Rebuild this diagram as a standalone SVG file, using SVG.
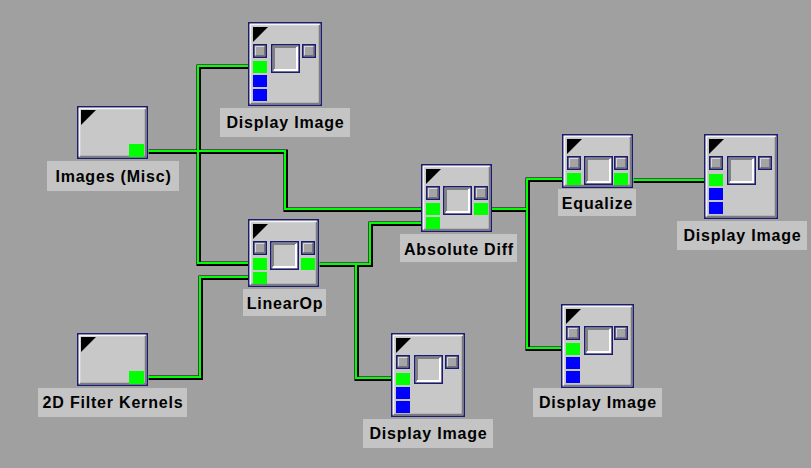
<svg xmlns="http://www.w3.org/2000/svg" xmlns:xlink="http://www.w3.org/1999/xlink" width="811" height="468" viewBox="0 0 811 468">
<style>
.box{fill:#c8c8c8;stroke:#1c1c6e;stroke-width:1.5}
.hi{fill:none;stroke:#f4f4f4;stroke-width:1.5}
.sh{fill:none;stroke:#7c7c7c;stroke-width:1.5}
.g{fill:#00ff00}
.b{fill:#0000ff}
.lbl{fill:#c4c4c4}
.txt{font-family:"Liberation Sans",Arial,sans-serif;font-weight:bold;font-size:16px;letter-spacing:0.8px;fill:#000;text-anchor:middle}
.wb{fill:none;stroke:#000;stroke-width:4.5;stroke-linejoin:miter}
.wg{fill:none;stroke:#00ff00;stroke-width:2;stroke-linejoin:miter}
</style>
<defs>
<path id="tri" d="M0,0H15L0,15Z" fill="#000"/>
<g id="sport"><rect x="0.75" y="0.75" width="12.5" height="12.5" fill="#a4a4a4" stroke="#1c1c6e" stroke-width="1.5"/><path d="M2.5,11.5V2.5H11.5" stroke="#d8d8d8" fill="none"/><path d="M2.5,11.5H11.5V2.5" stroke="#747474" fill="none"/></g>
<g id="bport"><rect x="0.75" y="0.75" width="27.5" height="27.5" fill="#c8c8c8" stroke="#1c1c6e" stroke-width="1.5"/><path d="M3,26V3H26" stroke="#808080" stroke-width="2" fill="none"/><path d="M3,26H26V3" stroke="#ffffff" stroke-width="2" fill="none"/></g>
</defs>
<rect x="0" y="0" width="811" height="468" fill="#a0a0a0"/>

<g id="connectors">
<g transform="translate(0.7,0.7)">
<path class="wb" d="M148,151H285V209H421"/>
<path class="wb" d="M248,66H198V263H248"/>
<path class="wb" d="M148,377H200V277H248"/>
<path class="wb" d="M319,264H370V223H421"/>
<path class="wb" d="M356,264V378H391"/>
<path class="wb" d="M491,209H527V179H562"/>
<path class="wb" d="M527,209V348H561"/>
<path class="wb" d="M633,180H704"/>
</g>
<path class="wg" d="M148,151H285V209H421"/>
<path class="wg" d="M248,66H198V263H248"/>
<path class="wg" d="M148,377H200V277H248"/>
<path class="wg" d="M319,264H370V223H421"/>
<path class="wg" d="M356,264V378H391"/>
<path class="wg" d="M491,209H527V179H562"/>
<path class="wg" d="M527,209V348H561"/>
<path class="wg" d="M633,180H704"/>
</g>

<g id="images-misc">
<g transform="translate(77,106)">
<rect class="box" x="0.75" y="0.75" width="69.5" height="51.5"/>
<path class="hi" d="M2.5,50V2.5H68.5"/>
<path class="sh" d="M3,50.5H68.5V3"/>
<use xlink:href="#tri" x="4" y="4"/>
<rect class="g" x="52" y="38" width="15" height="13"/>
</g>
<rect class="lbl" x="47" y="161" width="132" height="30"/>
<text class="txt" x="113.5" y="182">Images (Misc)</text>
</g>

<g id="filter-kernels">
<g transform="translate(77,333)">
<rect class="box" x="0.75" y="0.75" width="69.5" height="51.5"/>
<path class="hi" d="M2.5,50V2.5H68.5"/>
<path class="sh" d="M3,50.5H68.5V3"/>
<use xlink:href="#tri" x="4" y="4"/>
<rect class="g" x="52" y="38" width="15" height="13"/>
</g>
<rect class="lbl" x="38" y="388" width="149" height="29"/>
<text class="txt" x="113" y="408">2D Filter Kernels</text>
</g>

<g id="display-top">
<g transform="translate(248,22)">
<rect class="box" x="0.75" y="0.75" width="72.5" height="82.5"/>
<path class="hi" d="M2.5,81V2.5H71.5"/>
<path class="sh" d="M3,81.5H71.5V3"/>
<use xlink:href="#tri" x="5" y="5"/>
<use xlink:href="#sport" x="5" y="22"/>
<use xlink:href="#bport" x="23" y="22"/>
<use xlink:href="#sport" x="54" y="22"/>
<rect class="g" x="5" y="39" width="14" height="12"/>
<rect class="b" x="5" y="53" width="14" height="12"/>
<rect class="b" x="5" y="67" width="14" height="12"/>
</g>
<rect class="lbl" x="220" y="108" width="130" height="29"/>
<text class="txt" x="285.5" y="128">Display Image</text>
</g>

<g id="linearop">
<g transform="translate(248,219)">
<rect class="box" x="0.75" y="0.75" width="69.5" height="66.5"/>
<path class="hi" d="M2.5,65V2.5H68.5"/>
<path class="sh" d="M3,65.5H68.5V3"/>
<use xlink:href="#tri" x="5" y="5"/>
<use xlink:href="#sport" x="5" y="22"/>
<use xlink:href="#bport" x="22" y="22"/>
<use xlink:href="#sport" x="53" y="22"/>
<rect class="g" x="5" y="39" width="14" height="12"/>
<rect class="g" x="5" y="53" width="14" height="12"/>
<rect class="g" x="53" y="39" width="14" height="12"/>
</g>
<rect class="lbl" x="243" y="289" width="83" height="27"/>
<text class="txt" x="285" y="309">LinearOp</text>
</g>

<g id="absolute-diff">
<g transform="translate(421,164)">
<rect class="box" x="0.75" y="0.75" width="69.5" height="66.5"/>
<path class="hi" d="M2.5,65V2.5H68.5"/>
<path class="sh" d="M3,65.5H68.5V3"/>
<use xlink:href="#tri" x="5" y="5"/>
<use xlink:href="#sport" x="5" y="22"/>
<use xlink:href="#bport" x="22" y="22"/>
<use xlink:href="#sport" x="53" y="22"/>
<rect class="g" x="5" y="39" width="14" height="12"/>
<rect class="g" x="5" y="53" width="14" height="12"/>
<rect class="g" x="53" y="39" width="14" height="12"/>
</g>
<rect class="lbl" x="400" y="234" width="117" height="28"/>
<text class="txt" x="459" y="255">Absolute Diff</text>
</g>

<g id="equalize">
<g transform="translate(562,134)">
<rect class="box" x="0.75" y="0.75" width="69.5" height="52.5"/>
<path class="hi" d="M2.5,51V2.5H68.5"/>
<path class="sh" d="M3,51.5H68.5V3"/>
<use xlink:href="#tri" x="5" y="5"/>
<use xlink:href="#sport" x="5" y="22"/>
<use xlink:href="#bport" x="22" y="22"/>
<use xlink:href="#sport" x="52" y="22"/>
<rect class="g" x="5" y="39" width="14" height="12"/>
<rect class="g" x="52" y="39" width="14" height="12"/>
</g>
<rect class="lbl" x="558" y="189" width="78" height="27"/>
<text class="txt" x="597.5" y="209">Equalize</text>
</g>

<g id="display-right">
<g transform="translate(704,134)">
<rect class="box" x="0.75" y="0.75" width="72.5" height="83.5"/>
<path class="hi" d="M2.5,82V2.5H71.5"/>
<path class="sh" d="M3,82.5H71.5V3"/>
<use xlink:href="#tri" x="5" y="5"/>
<use xlink:href="#sport" x="5" y="22"/>
<use xlink:href="#bport" x="23" y="22"/>
<use xlink:href="#sport" x="54" y="22"/>
<rect class="g" x="5" y="40" width="14" height="12"/>
<rect class="b" x="5" y="54" width="14" height="12"/>
<rect class="b" x="5" y="68" width="14" height="12"/>
</g>
<rect class="lbl" x="677" y="221" width="130" height="29"/>
<text class="txt" x="742.5" y="241">Display Image</text>
</g>

<g id="display-bottom-middle">
<g transform="translate(391,333)">
<rect class="box" x="0.75" y="0.75" width="72.5" height="82.5"/>
<path class="hi" d="M2.5,81V2.5H71.5"/>
<path class="sh" d="M3,81.5H71.5V3"/>
<use xlink:href="#tri" x="5" y="5"/>
<use xlink:href="#sport" x="5" y="22"/>
<use xlink:href="#bport" x="23" y="22"/>
<use xlink:href="#sport" x="54" y="22"/>
<rect class="g" x="5" y="40" width="14" height="12"/>
<rect class="b" x="5" y="54" width="14" height="12"/>
<rect class="b" x="5" y="68" width="14" height="12"/>
</g>
<rect class="lbl" x="363" y="419" width="130" height="29"/>
<text class="txt" x="428.5" y="439">Display Image</text>
</g>

<g id="display-bottom-right">
<g transform="translate(561,304)">
<rect class="box" x="0.75" y="0.75" width="71.5" height="82.5"/>
<path class="hi" d="M2.5,81V2.5H70.5"/>
<path class="sh" d="M3,81.5H70.5V3"/>
<use xlink:href="#tri" x="5" y="5"/>
<use xlink:href="#sport" x="5" y="22"/>
<use xlink:href="#bport" x="23" y="22"/>
<use xlink:href="#sport" x="53" y="22"/>
<rect class="g" x="5" y="39" width="14" height="12"/>
<rect class="b" x="5" y="53" width="14" height="12"/>
<rect class="b" x="5" y="67" width="14" height="12"/>
</g>
<rect class="lbl" x="533" y="388" width="129" height="29"/>
<text class="txt" x="598" y="408">Display Image</text>
</g>
</svg>
